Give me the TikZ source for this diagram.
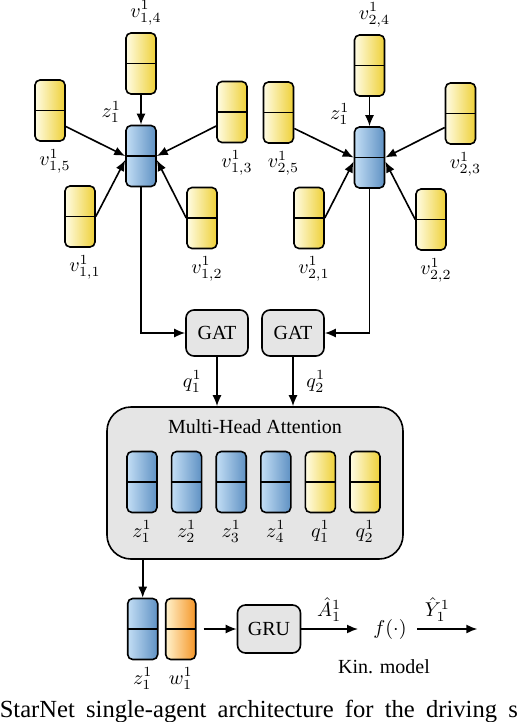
\documentclass[tikz,border=0pt]{standalone}
\usepackage{amsmath}
\usepackage{amssymb}
\usepackage{fontspec}
\setmainfont{Liberation Serif}
\usepackage{tikz}
\usetikzlibrary{arrows,arrows.meta,positioning}

\definecolor{ylight}{RGB}{255,252,228}
\definecolor{ydark}{RGB}{238,208,55}
\definecolor{blight}{RGB}{195,222,245}
\definecolor{bdark}{RGB}{95,145,195}
\definecolor{olight}{RGB}{255,242,205}
\definecolor{odark}{RGB}{245,150,40}

\tikzset{
  vec/.style={draw,thick,rounded corners=2.5pt,minimum width=15pt,minimum height=30.5pt,inner sep=0pt,
    path picture={\draw[-,thick] (path picture bounding box.west) -- (path picture bounding box.east);}},
  ynode/.style={vec,left color=ylight,right color=ydark},
  bnode/.style={vec,left color=blight,right color=bdark},
  onode/.style={vec,left color=olight,right color=odark},
  block/.style={draw,thick,rounded corners=4pt,fill=black!10,minimum width=31pt,minimum height=23pt},
  vlab/.style={xshift=2.5pt},
  zlab/.style={xshift=1.5pt,yshift=5pt}
}

\begin{document}
\begin{tikzpicture}[x=0.5pt,y=-0.5pt,->,>={Latex[length=5.5pt,width=4.5pt]},thick,node distance=22.3pt]
	\useasboundingbox (0,0) rectangle (516,722);

	% first star
	\node[bnode, label={[zlab]above left:$z^1_1$}] (z1) at (141,156) {};
	\node[ynode, label={[vlab]above:$v^1_{1,4}$}] (v14) at (141,63.5) {};
	\node[ynode, label={[vlab]below:$v^1_{1,5}$}] (v15) at (50,110.5) {};
	\node[ynode, label={[vlab]below:$v^1_{1,3}$}] (v13) at (232,112) {};
	\node[ynode, label={[vlab]below:$v^1_{1,1}$}] (v11) at (80,216.5) {};
	\node[ynode, label={[vlab]below:$v^1_{1,2}$}] (v12) at (202,218) {};

	% second star
	\node[bnode, label={[zlab]above left:$z^1_1$}] (z2) at (369.5,157.5) {};
	\node[ynode, label={[vlab]above:$v^1_{2,4}$}] (v24) at (369.5,65.5) {};
	\node[ynode, label={[vlab]below:$v^1_{2,5}$}] (v25) at (278.5,112.5) {};
	\node[ynode, label={[vlab]below:$v^1_{2,3}$}] (v23) at (460.5,113.5) {};
	\node[ynode, label={[vlab]below:$v^1_{2,1}$}] (v21) at (309,218) {};
	\node[ynode, label={[vlab]below:$v^1_{2,2}$}] (v22) at (431,219.5) {};

	\draw (v14) -- (z1);
	\draw ([yshift=-8pt]v15.east) -- (z1.west);
	\draw (v11.east) -- ([yshift=-2pt]z1.west);
	\draw ([yshift=-7pt]v13.west) -- (z1.east);
	\draw (v12.west) -- ([yshift=-2pt]z1.east);

	\draw (v24) -- (z2);
	\draw ([yshift=-8pt]v25.east) -- (z2.west);
	\draw (v21.east) -- ([yshift=-2pt]z2.west);
	\draw ([yshift=-7pt]v23.west) -- (z2.east);
	\draw (v22.west) -- ([yshift=-2pt]z2.east);

	% GAT and attention
	\node[block] (gat1) at (217,333) {GAT};
	\node[block] (gat2) at (293,333) {GAT};
	\node[block, rounded corners=12pt, minimum width=148pt, minimum height=76pt,
	  label={[anchor=north,yshift=-3pt]north:Multi-Head Attention}] (mha) at (255,483) {};

	\node[bnode, label=below:$z^1_1$] (a1) at (142,482) {};
	\node[bnode, label=below:$z^1_2$] (a2) [right of=a1] {};
	\node[bnode, label=below:$z^1_3$] (a3) [right of=a2] {};
	\node[bnode, label=below:$z^1_4$] (a4) [right of=a3] {};
	\node[ynode, label=below:$q^1_1$] (a5) [right of=a4] {};
	\node[ynode, label=below:$q^1_2$] (a6) [right of=a5] {};

	\draw (z1.south) |- (gat1.west);
	\draw (z2.south) |- (gat2.east);
	\draw (gat1.south) -- node[left, xshift=-4pt] {$q^1_1$} (gat1.south |- mha.north);
	\draw (gat2.south) -- node[right, xshift=3pt] {$q^1_2$} (gat2.south |- mha.north);

	% decoder
	\node[bnode, label=below:$z^1_1$] (zf) at (142.7,629) {};
	\node[onode, label=below:$w^1_1$, node distance=19pt, right of=zf] (wf) {};
	\node[block, minimum width=31.5pt, minimum height=24pt] (gru) at (269,629) {GRU};
	\node[label={[xshift=-3pt,label distance=3pt]below:Kin. model}] (fk) at (390,629) {$f(\cdot)$};
	\coordinate (out) at (477.3,629);

	\draw (mha.south -| zf) -- (zf.north);
	\draw[shorten <=3.5pt] (wf) -- (gru);
	\draw[shorten >=4pt] (gru) -- node[above, pos=0.43] {$\hat{A}^1_1$} (fk);
	\draw[shorten <=1.5pt] (fk) -- node[above, pos=0.37] {$\hat{Y}^1_1$} (out);

	% caption line, cut by the frame
	\node[anchor=base west, inner sep=0pt, font=\fontsize{12.3}{14}\selectfont] (cap) at (-1,717)
	  {\spaceskip=5.6pt\relax StarNet single-agent architecture for the driving s};
\end{tikzpicture}
\end{document}
